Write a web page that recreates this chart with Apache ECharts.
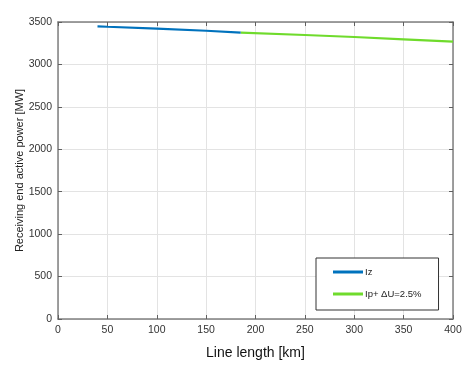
<!DOCTYPE html>
<html><head><meta charset="utf-8">
<script src="https://cdn.jsdelivr.net/npm/echarts@6/dist/echarts.min.js"></script>
<style>html,body{margin:0;padding:0;background:#fff}#c{width:476px;height:366px}</style>
</head><body><div id="c"></div>
<script>
const xTicks = [0, 50, 100, 150, 200, 250, 300, 350, 400];
const yTicks = [0, 500, 1000, 1500, 2000, 2500, 3000, 3500];
const izLength = [40, 50, 100, 150, 185];
const izPower = [3449, 3444, 3421, 3397, 3374];
const ipLength = [185, 250, 300, 350, 400];
const ipPower = [3374, 3347, 3323, 3296, 3268];
const seriesNames = ['Iz', 'Ip+ \u0394U=2.5%'];

const font = 'Liberation Sans, Arial, Helvetica, sans-serif';
const axisCommon = {
  type: 'value',
  axisLine: {show: true, onZero: false, lineStyle: {color: '#808080', width: 1.5}},
  axisTick: {show: true, inside: true, length: 4, lineStyle: {color: '#606060'}},
};
const chart = echarts.init(document.getElementById('c'));
chart.setOption({
  animation: false,
  textStyle: {fontFamily: font},
  grid: {left: 58, right: 23, top: 22, bottom: 47, containLabel: false, outerBoundsMode: 'none'},
  xAxis: [
    Object.assign({}, axisCommon, {
      min: xTicks[0], max: xTicks[xTicks.length - 1], interval: 50, position: 'bottom',
      name: 'Line length [km]', nameLocation: 'middle', nameGap: 27, nameMoveOverlap: false,
      nameTextStyle: {fontSize: 14, color: '#111', fontFamily: font},
      axisLabel: {fontSize: 10.5, color: '#333', margin: 6, fontFamily: font, formatter: v => String(v)},
      splitLine: {show: true, lineStyle: {color: '#e3e3e3', width: 1}}
    }),
    Object.assign({}, axisCommon, {
      min: xTicks[0], max: xTicks[xTicks.length - 1], interval: 50, position: 'top',
      axisLabel: {show: false}, splitLine: {show: false}
    })
  ],
  yAxis: [
    Object.assign({}, axisCommon, {
      min: yTicks[0], max: yTicks[yTicks.length - 1], interval: 500, position: 'left',
      name: 'Receiving end active power [MW]', nameLocation: 'middle', nameGap: 33, nameMoveOverlap: false,
      nameTextStyle: {fontSize: 11, color: '#222', fontFamily: font},
      axisLabel: {fontSize: 10.5, color: '#333', margin: 6, fontFamily: font, formatter: v => String(v)},
      splitLine: {show: true, lineStyle: {color: '#e3e3e3', width: 1}}
    }),
    Object.assign({}, axisCommon, {
      min: yTicks[0], max: yTicks[yTicks.length - 1], interval: 500, position: 'right',
      axisLabel: {show: false}, splitLine: {show: false}
    })
  ],
  legend: {
    orient: 'vertical', left: 316, top: 258,
    padding: [9, 17, 11, 17], itemGap: 12, itemWidth: 30, itemHeight: 3,
    icon: 'rect',
    borderColor: '#333', borderWidth: 1, backgroundColor: '#fff',
    textStyle: {fontSize: 9.5, color: '#222', fontFamily: font, padding: [0, 0, 0, -3]},
    data: seriesNames
  },
  series: [
    {name: seriesNames[0], type: 'line', showSymbol: false, symbol: 'none',
     data: izLength.map((x, i) => [x, izPower[i]]),
     lineStyle: {color: '#0072BD', width: 2.2}, itemStyle: {color: '#0072BD'}, z: 3},
    {name: seriesNames[1], type: 'line', showSymbol: false, symbol: 'none',
     data: ipLength.map((x, i) => [x, ipPower[i]]),
     lineStyle: {color: '#6FDB2C', width: 2.2}, itemStyle: {color: '#6FDB2C'}, z: 2}
  ]
});
</script></body></html>
